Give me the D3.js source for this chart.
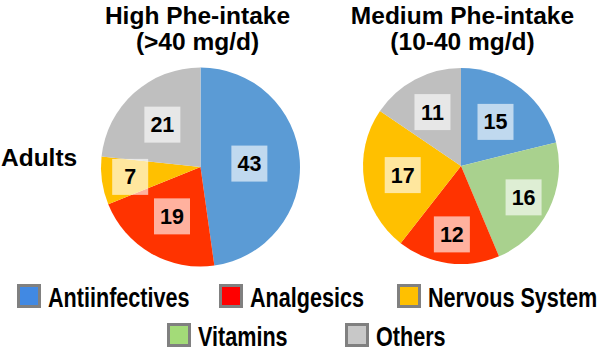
<!DOCTYPE html>
<html>
<head>
<meta charset="utf-8">
<script src="https://cdn.jsdelivr.net/npm/d3@7"></script>
<style>
  html, body { margin: 0; padding: 0; background: #fff; }
  svg { display: block; font-family: "Liberation Sans", Arial, sans-serif; font-weight: bold; }
</style>
</head>
<body>
<div id="chart"></div>
<script>
// -------------------------------------------------------------------------
// Data

const categories = ['Antiinfectives', 'Vitamins', 'Analgesics', 'Nervous System', 'Others'];
const highIntake = [43, 0, 19, 7, 21];
const mediumIntake = [15, 16, 12, 17, 11];
const legendOrder = ['Antiinfectives', 'Analgesics', 'Nervous System', 'Vitamins', 'Others'];
const pieTitles = [['High Phe-intake', '(>40 mg/d)'], ['Medium Phe-intake', '(10-40 mg/d)']];
const rowLabel = 'Adults';

// -------------------------------------------------------------------------
// Layout / styles

let width = 598;
let height = 353;

let sliceColor = d3.scaleOrdinal()
  .domain(categories)
  .range(['#5B9BD5', '#A9D18E', '#FF3300', '#FFC000', '#BFBFBF']);

let swatchColor = d3.scaleOrdinal()
  .domain(categories)
  .range(['#4189E3', '#A3DB78', '#FF0000', '#FFC000', '#C8C8C8']);

// pie placement and per-slice label distance from the centre
let pies = [
  { values: highIntake, cx: 200.5, cy: 167, r: 99.5, title: pieTitles[0], titleX: 197.5,
    labelR: [49, 0, 57, 71, 57] },
  { values: mediumIntake, cx: 461, cy: 166, r: 98, title: pieTitles[1], titleX: 462.5,
    labelR: [56, 70, 69, 59, 61] }
];

// legend swatch positions, two rows
let legendPos = [
  { x: 17, y: 284 }, { x: 219, y: 284 }, { x: 397, y: 284 },
  { x: 167, y: 323 }, { x: 345, y: 323 }
];

let svg = d3.select('#chart')
  .append('svg')
  .attr('width', width)
  .attr('height', height);

// -------------------------------------------------------------------------
// Pies

let pie = d3.pie()
  .value(function(d) {
    return d.value;
  })
  .sort(null);

pies.forEach(p => {
  let data = categories.map((c, i) => ({ name: c, value: p.values[i], labelR: p.labelR[i] }));

  let arc = d3.arc()
    .innerRadius(0)
    .outerRadius(p.r);

  let g = svg.append('g')
    .attr('transform', `translate(${p.cx},${p.cy})`);

  let slices = pie(data).filter(d => d.data.value > 0);

  g.selectAll('path')
    .data(slices)
    .enter()
    .append('path')
    .attr('d', arc)
    .attr('fill', d => sliceColor(d.data.name));

  let labels = g.selectAll('g.lbl')
    .data(slices)
    .enter()
    .append('g')
    .attr('class', 'lbl')
    .attr('transform', d => {
      let a = (d.startAngle + d.endAngle) / 2;
      return `translate(${Math.sin(a) * d.data.labelR},${-Math.cos(a) * d.data.labelR})`;
    });
  labels.append('rect')
    .attr('x', -18).attr('y', -18)
    .attr('width', 36).attr('height', 36)
    .attr('fill', '#fff')
    .attr('fill-opacity', 0.62);
  labels.append('text')
    .attr('text-anchor', 'middle')
    .attr('y', 7.5)
    .attr('font-size', 21.5)
    .attr('fill', '#000')
    .text(d => d.data.value);

  // title, two lines
  let t = svg.append('text')
    .attr('text-anchor', 'middle')
    .attr('font-size', 24.5)
    .attr('fill', '#000');
  t.append('tspan').attr('x', p.titleX).attr('y', 24).text(p.title[0]);
  t.append('tspan').attr('x', p.titleX).attr('y', 49.5).text(p.title[1]);
});

svg.append('text')
  .attr('x', 1)
  .attr('y', 166)
  .attr('font-size', 24.5)
  .attr('fill', '#000')
  .text(rowLabel);

// -------------------------------------------------------------------------
// Legend

let legend = svg.selectAll('g.legend')
  .data(legendOrder)
  .enter()
  .append('g')
  .attr('class', 'legend')
  .attr('transform', (d, i) => `translate(${legendPos[i].x},${legendPos[i].y})`);

legend.append('rect')
  .attr('x', 1.5).attr('y', 1.5)
  .attr('width', 21).attr('height', 21)
  .attr('fill', d => swatchColor(d))
  .attr('stroke', '#808080')
  .attr('stroke-width', 3);

legend.append('text')
  .attr('transform', 'translate(31,22.5) scale(0.8,1)')
  .attr('font-size', 27)
  .attr('fill', '#000')
  .text(d => d);
</script>
</body>
</html>
